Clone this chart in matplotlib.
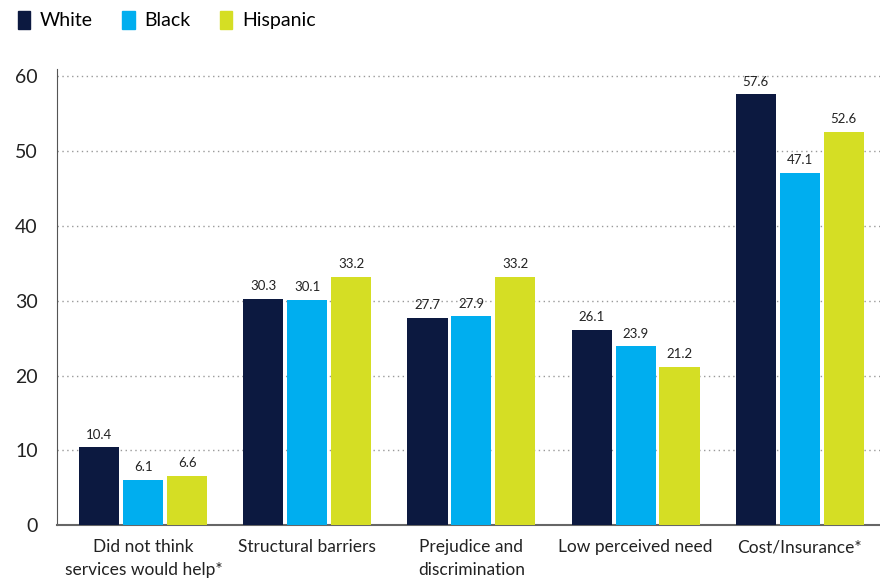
import matplotlib.pyplot as plt
import numpy as np
from matplotlib.patches import Patch

categories = ["Did not think\nservices would help*", "Structural barriers",
              "Prejudice and\ndiscrimination", "Low perceived need", "Cost/Insurance*"]
white = [10.4, 30.3, 27.7, 26.1, 57.6]
black = [6.1, 30.1, 27.9, 23.9, 47.1]
hispanic = [6.6, 33.2, 33.2, 21.2, 52.6]
series_names = ["White", "Black", "Hispanic"]
colors = ["#0c1940", "#00aeef", "#d5de24"]

plt.rcParams["font.family"] = ["Lato", "DejaVu Sans"]

fig = plt.figure(figsize=(8.8, 5.79), dpi=100)
ax = fig.add_axes([0.065, 0.093, 0.935, 0.788])

x = np.arange(len(categories))
width = 0.244
step = 0.268
for i, (vals, col) in enumerate(zip([white, black, hispanic], colors)):
    bars = ax.bar(x + (i - 1) * step, vals, width, color=col, zorder=3)
    for b, v in zip(bars, vals):
        ax.text(b.get_x() + b.get_width() / 2, v + 0.9, f"{v:.1f}",
                ha="center", va="bottom", fontsize=9.5, color="#222222")

ax.set_xlim(-0.525, 4.49)
ax.set_ylim(0, 61)
ax.set_yticks(range(0, 61, 10))
ax.tick_params(axis="y", length=0, labelsize=14, pad=14, colors="#222222")
ax.tick_params(axis="x", length=0, labelsize=12.5, pad=10, colors="#222222")
ax.set_xticks(x)
ax.set_xticklabels(categories, linespacing=1.5)
ax.yaxis.grid(True, linestyle=(0, (1, 2.5)), color="#999999", linewidth=1.0, zorder=0)
for s in ["top", "right"]:
    ax.spines[s].set_visible(False)
ax.spines["left"].set_color("#555555")
ax.spines["bottom"].set_color("#666666")
ax.spines["bottom"].set_linewidth(1.5)

handles = [Patch(color=c, label=n) for c, n in zip(colors, series_names)]
fig.legend(handles=handles, loc="upper left", bbox_to_anchor=(0.0, 1.012), ncol=3,
           frameon=False, fontsize=14, handlelength=0.65, handleheight=1.1,
           handletextpad=0.5, columnspacing=1.5)

fig.savefig("out.png", dpi=100)
